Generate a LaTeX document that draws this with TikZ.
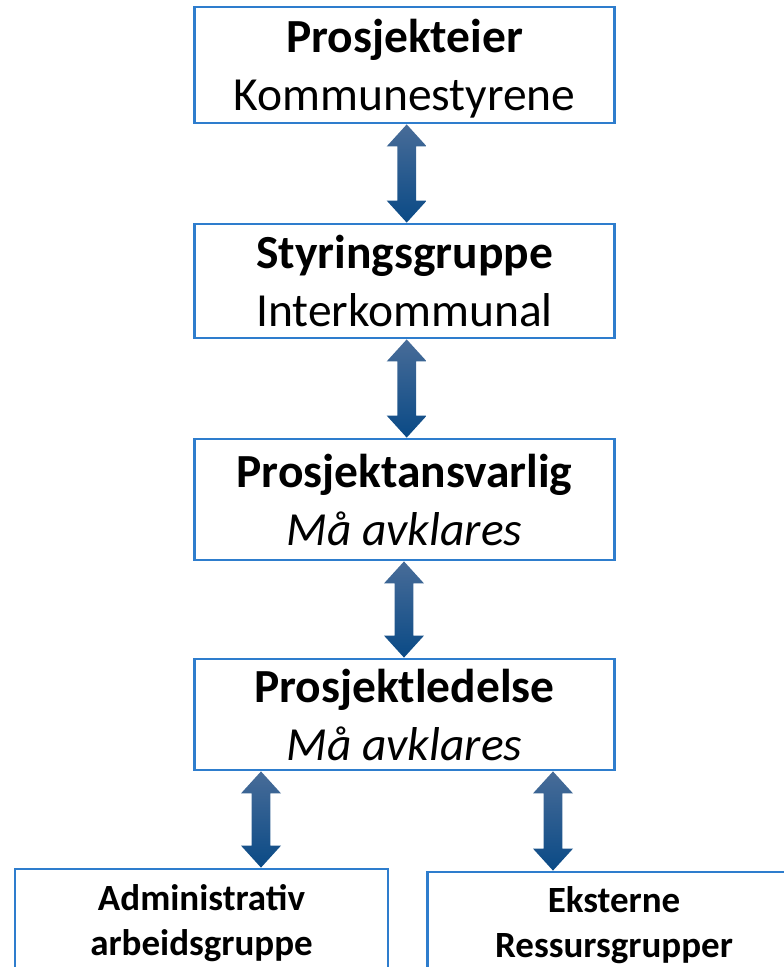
\documentclass[tikz,border=0pt]{standalone}
\usepackage{fontspec}
\setmainfont{Carlito}
\usetikzlibrary{calc}
\definecolor{boxblue}{RGB}{46,125,205}
\definecolor{arrowtop}{RGB}{72,108,152}
\definecolor{arrowmid}{RGB}{14,78,138}
\definecolor{arrowbot}{RGB}{10,74,134}
\begin{document}
\begin{tikzpicture}
[x=1pt,y=-1pt,%
  every node/.style={draw=boxblue,line width=2.8pt,align=center,inner sep=0pt,text depth=0pt},
  big/.style={font=\fontsize{47.5}{58}\selectfont,minimum width=420.5},
  small/.style={font=\bfseries\fontsize{37}{45}\selectfont,minimum width=373,minimum height=101},
  linkarrow/.style={draw=none,top color=arrowtop,middle color=arrowmid,bottom color=arrowbot}]
\useasboundingbox (0,0) rectangle (784,967);
\node[big,minimum height=116] (owner) at (404.5,65) {\textbf{Prosjekteier}\\Kommunestyrene};
\node[big,minimum height=114] (steer) at (404.5,281) {\textbf{Styringsgruppe}\\Interkommunal};
\node[big,minimum height=121] (resp) at (404.5,499.5) {\textbf{Prosjektansvarlig}\\\textit{Må avklares}};
\node[big,minimum height=111] (lead) at (404.5,714.5) {\textbf{Prosjektledelse}\\\textit{Må avklares}};
\node[small] (admin) at (201.5,919.5) {Administrativ\\arbeidsgruppe};
\node[small] (ext) at (614,922.5) {Eksterne\\Ressursgrupper};
% double arrows between the boxes
\foreach \cx/\src/\dst in {406.7/owner/steer,406.7/steer/resp,404/resp/lead,261/lead/admin,553/lead/ext}
  \shade[linkarrow] let \p1=(\src.south), \p2=(\dst.north) in
    (\cx pt,\y1) -- (\cx pt+20pt,\y1-22pt) -- (\cx pt+9.3pt,\y1-22pt)
    -- (\cx pt+9.3pt,\y2+22pt) -- (\cx pt+20pt,\y2+22pt) -- (\cx pt,\y2)
    -- (\cx pt-20pt,\y2+22pt) -- (\cx pt-9.3pt,\y2+22pt)
    -- (\cx pt-9.3pt,\y1-22pt) -- (\cx pt-20pt,\y1-22pt) -- cycle;
\end{tikzpicture}
\end{document}
